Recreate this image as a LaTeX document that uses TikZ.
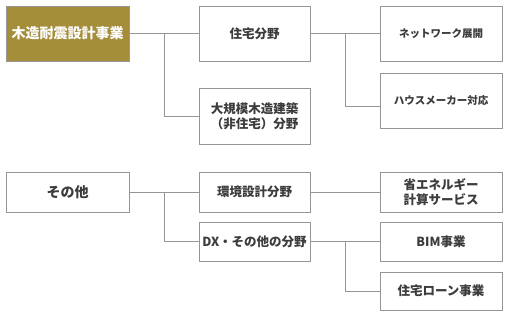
\documentclass[tikz,border=0pt]{standalone}
\usepackage{fontspec}
\setmainfont{Noto Sans CJK JP}
\usepackage{xcolor}
\definecolor{olive}{RGB}{164,142,58}
\definecolor{boxgray}{RGB}{150,150,150}
\definecolor{txtgray}{RGB}{60,60,60}

\begin{document}
\begin{tikzpicture}[x=1pt, y=-1pt]
\tikzstyle{bStyle}=[shape = rectangle, inner sep = 0pt, outer sep = 0pt,
draw=boxgray, line width=1pt, fill=white, text=txtgray, align=center,
font=\bfseries\fontsize{12.5}{15}\selectfont]
\tikzstyle{mStyle}=[bStyle, fill=olive, text=white,
font=\bfseries\fontsize{14}{17}\selectfont]
\tikzstyle{sStyle}=[bStyle, font=\bfseries\fontsize{10.5}{13}\selectfont]
\tikzstyle{lStyle}=[draw=boxgray, line width=1pt]

\useasboundingbox (0,0) rectangle (508,316);

% top group
\node[mStyle, minimum width=123pt, minimum height=55pt] (wood) at (67.5,33.5) {木造耐震設計事業};
\node[bStyle, minimum width=111pt, minimum height=55pt] (house) at (254.5,33.5) {住宅分野};
\node[bStyle, minimum width=111pt, minimum height=56pt] (large) at (254.5,116) {大規模木造建築\\（非住宅）分野};
\node[sStyle, minimum width=122pt, minimum height=55pt] (net) at (441,33.5) {ネットワーク展開};
\node[sStyle, minimum width=122pt, minimum height=55pt] (maker) at (441,100.5) {ハウスメーカー対応};

% bottom group
\node[bStyle, minimum width=123pt, minimum height=40pt, font=\bfseries\fontsize{14}{17}\selectfont] (other) at (67.5,192) {その他};
\node[bStyle, minimum width=111pt, minimum height=40pt] (env) at (254.5,192) {環境設計分野};
\node[bStyle, minimum width=111pt, minimum height=39pt] (dx) at (254.5,241.5) {DX・その他の分野};
\node[bStyle, minimum width=122pt, minimum height=40pt] (eco) at (441,192) {省エネルギー\\計算サービス};
\node[bStyle, minimum width=122pt, minimum height=39pt] (bim) at (441,241.5) {BIM事業};
\node[bStyle, minimum width=122pt, minimum height=38pt] (loan) at (441,291) {住宅ローン事業};

\coordinate (j1) at (164,33.5);
\coordinate (j2) at (345,33.5);
\coordinate (j3) at (164,192);
\coordinate (j4) at (345,241.5);

\draw[lStyle] (wood.east) -- (house.west);
\draw[lStyle] (j1) |- (large.west);
\draw[lStyle] (house.east) -- (net.west);
\draw[lStyle] (j2) |- ([yshift=-5.5pt]maker.west);

\draw[lStyle] (other.east) -- (env.west);
\draw[lStyle] (j3) |- (dx.west);
\draw[lStyle] (env.east) -- (eco.west);
\draw[lStyle] (dx.east) -- (bim.west);
\draw[lStyle] (j4) |- (loan.west);
\end{tikzpicture}
\end{document}
